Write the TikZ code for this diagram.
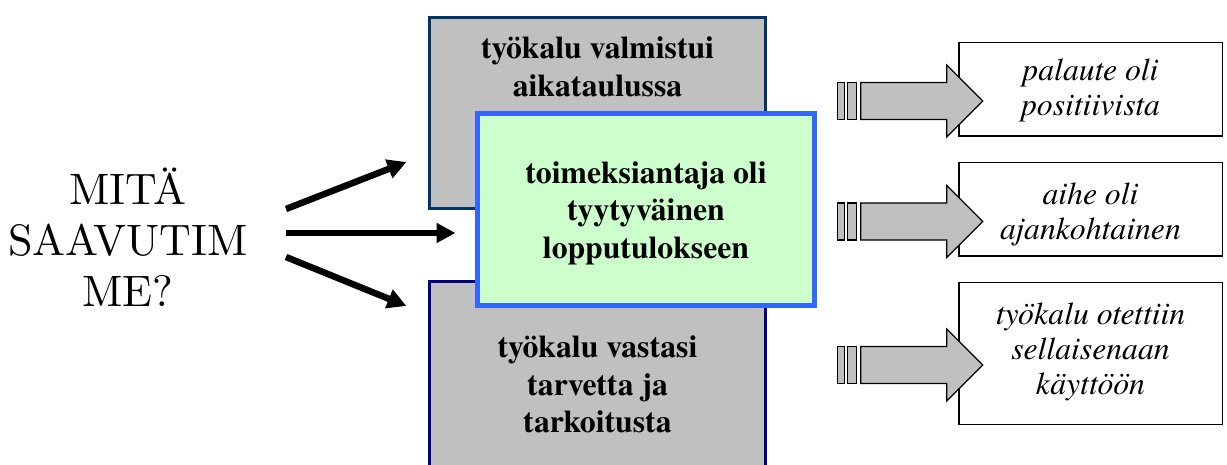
\documentclass[tikz,border=0pt]{standalone}
\usepackage{fontspec}
\newfontfamily\timesfont{texgyretermes}[Extension=.otf,
  UprightFont=*-regular, BoldFont=*-bold, ItalicFont=*-italic,
  BoldItalicFont=*-bolditalic]
\newfontfamily\lmten{lmroman10-regular.otf}
\usetikzlibrary{arrows.meta,calc}
\definecolor{boxgray}{HTML}{C0C0C0}
\definecolor{topblue}{HTML}{003366}
\definecolor{botblue}{HTML}{000080}
\definecolor{greenfill}{HTML}{CCFFCC}
\definecolor{greenborder}{HTML}{3366FF}
\tikzset{
  graybox/.style={fill=boxgray, line width=3pt, inner sep=0pt, outer sep=0pt,
    minimum width=336pt},
  boldtext/.style={align=center, inner sep=0pt,
    font=\timesfont\bfseries\fontsize{31.7}{37.5}\selectfont},
  itext/.style={align=center, inner sep=0pt,
    font=\timesfont\itshape\fontsize{31.7}{35}\selectfont},
  rbox/.style={draw=black, fill=white, line width=1.5pt, inner sep=0pt,
    outer sep=0pt, minimum width=263.5pt},
  thinarrow/.style={line width=6.5pt, -{Triangle[length=19pt,width=19pt]}},
  fatpart/.style={draw=black, fill=boxgray, line width=1.2pt},
  fatarrow/.pic={
    \path[fatpart] (-145,-18.5) rectangle (-138,18.5);
    \path[fatpart] (-135,-18.5) rectangle (-126,18.5);
    \path[fatpart] (-122,-18.5) -- (-36,-18.5) -- (-36,-36) -- (0,0)
      -- (-36,36) -- (-36,18.5) -- (-122,18.5) -- cycle;
  }
}
\begin{document}
\begin{tikzpicture}[x=1pt,y=-1pt]
\useasboundingbox (0,0) rectangle (1227,465);
\clip (0,0) rectangle (1227,465);

% left question
\node[align=center, inner sep=0pt, font=\lmten\fontsize{44}{51}\selectfont] (q)
  at (128,237) {MITÄ\\SAAVUTIM\\ME?};

% gray boxes
\node[graybox, draw=topblue, minimum height=191pt] (t) at (597.5,113) {};
\node[graybox, draw=botblue, minimum height=198.5pt] (b) at (597.5,380.75) {};
\node[boldtext] (ttext) at (597.5,67) {työkalu valmistui\\aikataulussa};
\node[boldtext] (btext) at (597.5,384.5) {työkalu vastasi\\tarvetta ja\\tarkoitusta};

% green box
\node[draw=greenborder, fill=greenfill, line width=5pt, inner sep=0pt,
  outer sep=0pt, minimum width=337pt, minimum height=192pt] (g) at (646,209.5) {};
\node[boldtext] (gtext) at (646,213) {toimeksiantaja oli\\tyytyväinen\\lopputulokseen};

% right boxes
\node[rbox, minimum height=93.5pt] (r1) at (1090.5,89.5) {};
\node[rbox, minimum height=93.5pt] (r2) at (1090.5,209.5) {};
\node[rbox, minimum height=141.5pt] (r3) at (1090.5,353.5) {};
\node[itext] (r1t) at ($(r1)+(0,0.9)$) {palaute oli\\positiivista};
\node[itext] (r2t) at ($(r2)+(0,4.5)$) {aihe oli\\ajankohtainen};
\node[itext] (r3t) at ($(r3)+(0,-2)$) {työkalu otettiin\\sellaisenaan\\käyttöön};

% fat arrows
\pic at ($(r1.west)+(24,11.5)$) {fatarrow};
\pic at ($(r2.west)+(24,12)$) {fatarrow};
\pic at ($(r3.west)+(24,11.5)$) {fatarrow};

% thin arrows
\coordinate (s1) at (286,209);
\coordinate (s2) at (286,233);
\coordinate (s3) at (286,257);
\coordinate (e1) at ($(t.west)+(-23,49)$);
\coordinate (e2) at ($(g.west)+(-22,23.5)$);
\coordinate (e3) at ($(b.west)+(-23,-74.75)$);
\draw[thinarrow] (s1) -- (e1);
\draw[thinarrow] (s2) -- (e2);
\draw[thinarrow] (s3) -- (e3);
\end{tikzpicture}
\end{document}
